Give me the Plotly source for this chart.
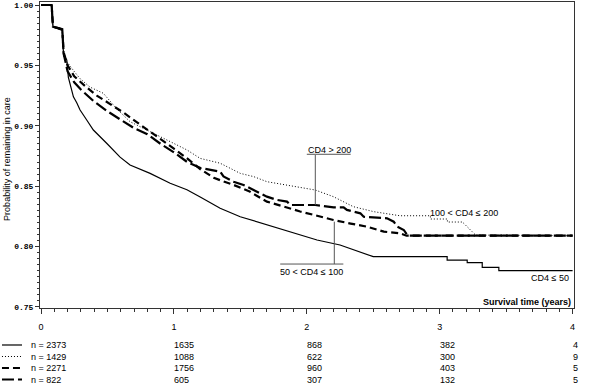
import plotly.graph_objects as go

# ---------------- data ----------------
# CD4 <= 50 (solid, n = 2373)
solid_t = [0, 0.08, 0.09, 0.16, 0.17, 0.194, 0.206, 0.244, 0.269, 0.294, 0.344, 0.394, 0.494, 0.595,
           0.670, 0.821, 0.972, 1.098, 1.198, 1.348, 1.499, 1.70, 1.90, 2.077, 2.25, 2.40, 2.50,
           3.056, 3.056, 3.207, 3.207, 3.32, 3.32, 3.445, 3.445, 4.0]
solid_p = [1.0, 1.0, 0.982, 0.979, 0.958, 0.9545, 0.940, 0.924, 0.919, 0.913, 0.9048, 0.8965, 0.8855, 0.874,
           0.8675, 0.8606, 0.8524, 0.847, 0.841, 0.8317, 0.8247, 0.818, 0.811, 0.8054, 0.8013, 0.7957, 0.7916,
           0.7916, 0.7888, 0.7888, 0.7867, 0.7867, 0.7828, 0.7828, 0.780, 0.780]

# 100 < CD4 <= 200 (dotted, n = 1429)
dot_t = [0, 0.08, 0.09, 0.16, 0.17, 0.194, 0.25, 0.294, 0.369, 0.469, 0.570, 0.670, 0.796, 0.947, 1.098,
         1.198, 1.348, 1.499, 1.60, 1.70, 1.90, 2.064, 2.20, 2.35, 2.503, 2.70, 2.93, 2.93, 3.058, 3.058,
         3.171, 3.27, 4.0]
dot_p = [1.0, 1.0, 0.982, 0.980, 0.962, 0.953, 0.945, 0.939, 0.932, 0.9269, 0.914, 0.9034, 0.8965, 0.8882, 0.880,
         0.873, 0.869, 0.8606, 0.8579, 0.8537, 0.8496, 0.8468, 0.8413, 0.833, 0.8289, 0.8255, 0.8255, 0.8228, 0.8228, 0.8203,
         0.8203, 0.8095, 0.809]

# 50 < CD4 <= 100 (dashed, n = 2271)
dash_t = [0, 0.08, 0.09, 0.16, 0.17, 0.20, 0.25, 0.33, 0.42, 0.52, 0.62, 0.72, 0.80, 0.90, 1.0, 1.1, 1.2,
          1.3, 1.37, 1.45, 1.57, 1.70, 1.83, 1.95, 2.06, 2.20, 2.33, 2.45, 2.58, 2.70, 2.75, 4.0]
dash_p = [1.0, 1.0, 0.982, 0.980, 0.961, 0.950, 0.941, 0.933, 0.925, 0.918, 0.911, 0.903, 0.897, 0.889, 0.881, 0.873, 0.864,
          0.857, 0.854, 0.851, 0.8455, 0.8372, 0.833, 0.829, 0.826, 0.822, 0.819, 0.8165, 0.8123, 0.811, 0.809, 0.809]

# CD4 > 200 (long dash, n = 822)
ldash_t = [0, 0.08, 0.09, 0.16, 0.17, 0.20, 0.25, 0.30, 0.40, 0.50, 0.60, 0.70, 0.80, 0.90, 1.0, 1.1, 1.2,
           1.348, 1.373, 1.449, 1.524, 1.60, 1.70, 1.776, 1.851, 1.876, 2.064, 2.202, 2.277, 2.302, 2.403,
           2.428, 2.604, 2.654, 2.679, 2.73, 2.76, 4.0]
ldash_p = [1.0, 1.0, 0.982, 0.980, 0.960, 0.945, 0.936, 0.930, 0.920, 0.912, 0.905, 0.898, 0.893, 0.885, 0.878, 0.870, 0.865,
           0.862, 0.858, 0.8537, 0.851, 0.8468, 0.8413, 0.8386, 0.8372, 0.8344, 0.8344, 0.8325, 0.8325, 0.8303, 0.8275,
           0.8247, 0.8234, 0.8206, 0.8165, 0.8137, 0.809, 0.809]

# numbers at risk
risk_times = [0, 1, 2, 3, 4]
risk_solid = [2373, 1635, 868, 382, 4]
risk_dotted = [1429, 1088, 622, 300, 9]
risk_dash = [2271, 1756, 960, 403, 5]
risk_ldash = [822, 605, 307, 132, 5]

y_ticks = [0.75, 0.80, 0.85, 0.90, 0.95, 1.00]
x_ticks = [0, 1, 2, 3, 4]

# ---------------- figure ----------------
FONT = "Liberation Sans"
styles = [
    (solid_t, solid_p, "solid", 1.2),
    (dot_t, dot_p, "1px,2px", 1.0),
    (dash_t, dash_p, "7px,4px", 2.2),
    (ldash_t, ldash_p, "12px,4px", 2.2),
]

fig = go.Figure()
for t, p, dash, w in styles:
    fig.add_trace(go.Scatter(x=t, y=p, mode="lines", line=dict(color="black", width=w, dash=dash),
                             showlegend=False, hoverinfo="skip"))

# curve labels
labels = [
    dict(x=2.173, y=0.8800, text="CD4 &gt; 200", xanchor="center"),
    dict(x=2.038, y=0.7792, text="50 &lt; CD4 ≤ 100", xanchor="center"),
    dict(x=3.183, y=0.8278, text="100 &lt; CD4 ≤ 200", xanchor="center"),
    dict(x=3.985, y=0.7740, text="CD4 ≤ 50", xanchor="right"),
]
for lb in labels:
    fig.add_annotation(x=lb["x"], y=lb["y"], text=lb["text"], xanchor=lb["xanchor"], yanchor="middle",
                       showarrow=False, font=dict(family=FONT, size=9, color="black"))

# pointer lines (label -> curve) and under/over-lines of the labels
gray = "#555555"
ptr = [
    (2.064, 2.064, 0.8758, 0.8344),
    (2.0, 2.33, 0.8764, 0.8764),
    (2.207, 2.207, 0.7855, 0.8206),
    (1.80, 2.275, 0.7855, 0.7855),
]
for x0, x1, y0, y1 in ptr:
    fig.add_shape(type="line", xref="x", yref="y", x0=x0, x1=x1, y0=y0, y1=y1,
                  line=dict(color=gray, width=1))

fig.add_annotation(x=4.0, y=0.7543, xref="x", yref="y", text="<b>Survival time (years)</b>",
                   xanchor="right", yanchor="middle", showarrow=False,
                   font=dict(family=FONT, size=9, color="black"))

fig.add_annotation(x=-0.062, y=0.8725, xref="paper", yref="y", text="Probability of remaining in care",
                   textangle=-90, xanchor="center", yanchor="middle", showarrow=False,
                   font=dict(family=FONT, size=9, color="black"))

# numbers-at-risk table
rows = [(risk_solid, "solid", 1.2), (risk_dotted, "1px,2px", 1.0),
        (risk_dash, "7px,4px", 2.2), (risk_ldash, "12px,4px", 2.2)]
row_y = [-0.1209, -0.1585, -0.1961, -0.2337]
for (vals, dash, w), ry in zip(rows, row_y):
    fig.add_shape(type="line", xref="paper", yref="paper", x0=-0.0712, x1=-0.0337, y0=ry, y1=ry,
                  line=dict(color="black", width=w, dash=dash))
    fig.add_annotation(x=-0.0206, y=ry, xref="paper", yref="paper", text=f"n = {vals[0]}",
                       xanchor="left", yanchor="middle", showarrow=False,
                       font=dict(family=FONT, size=9, color="black"))
    for t, v in zip(risk_times[1:], vals[1:]):
        fig.add_annotation(x=t, y=ry, xref="x", yref="paper", text=str(v), xanchor="left", xshift=-2,
                           yanchor="middle", showarrow=False,
                           font=dict(family=FONT, size=9, color="black"))

fig.update_layout(
    width=600, height=386,
    margin=dict(l=40, r=26, t=2, b=78),
    paper_bgcolor="white", plot_bgcolor="white",
    showlegend=False,
)
fig.update_xaxes(range=[-0.0075, 4.0105], tickvals=x_ticks, ticktext=[str(v) for v in x_ticks],
                 showgrid=False, zeroline=False, showline=True, linecolor="#333", linewidth=1, mirror=True,
                 ticks="outside", ticklen=5, tickcolor="#333", ticklabelstandoff=5,
                 tickfont=dict(family=FONT, size=9, color="black"),
                 minor=dict(dtick=0.1, tick0=0, ticks="outside", ticklen=3, tickcolor="#333"))
fig.update_yaxes(range=[0.7491, 1.0025], tickvals=y_ticks, ticktext=[f"{v:.2f}" for v in y_ticks],
                 showgrid=False, zeroline=False, showline=True, linecolor="#333", linewidth=1, mirror=True,
                 ticks="outside", ticklen=4, tickcolor="#333",
                 tickfont=dict(family="Liberation Mono", size=8, color="black", weight="bold"),
                 minor=dict(dtick=0.005, tick0=0.75, ticks="outside", ticklen=2, tickcolor="#333"))

fig.write_html("out.html", config={"displayModeBar": False},
               post_script="document.body.style.margin='0';document.body.style.padding='0';")
